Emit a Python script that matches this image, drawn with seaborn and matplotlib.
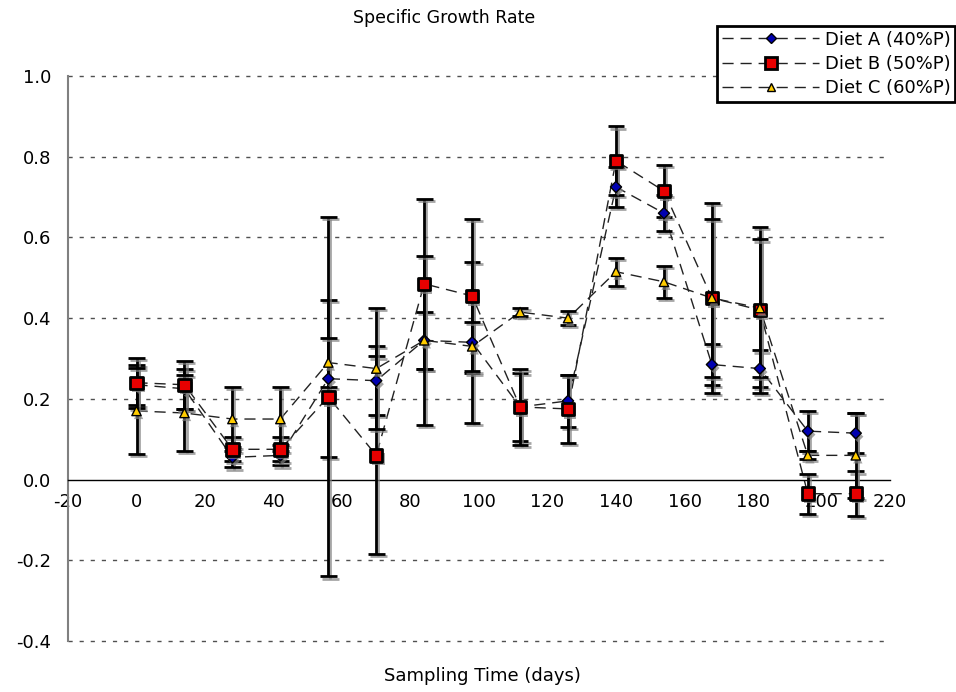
import numpy as np
import pandas as pd
import matplotlib
matplotlib.use("Agg")
import matplotlib.pyplot as plt
import matplotlib.patheffects as pe
from matplotlib.lines import Line2D
import seaborn as sns

# ---- data ----
days = [0, 14, 28, 42, 56, 70, 84, 98, 112, 126, 140, 154, 168, 182, 196, 210]
diet_a = [0.235, 0.225, 0.055, 0.060, 0.250, 0.245, 0.345, 0.340, 0.180, 0.195,
          0.725, 0.660, 0.285, 0.275, 0.120, 0.115]
diet_a_err = [0.050, 0.050, 0.025, 0.025, 0.195, 0.085, 0.070, 0.200, 0.085, 0.065,
              0.050, 0.045, 0.050, 0.045, 0.050, 0.050]
diet_b = [0.240, 0.235, 0.075, 0.075, 0.205, 0.060, 0.485, 0.455, 0.180, 0.175,
          0.790, 0.715, 0.450, 0.420, -0.035, -0.035]
diet_b_err = [0.062, 0.060, 0.030, 0.030, 0.445, 0.245, 0.210, 0.190, 0.095, 0.085,
              0.085, 0.065, 0.235, 0.205, 0.050, 0.055]
diet_c = [0.170, 0.165, 0.150, 0.150, 0.290, 0.275, 0.345, 0.330, 0.415, 0.400,
          0.515, 0.490, 0.450, 0.425, 0.060, 0.060]
diet_c_err = [0.107, 0.095, 0.080, 0.080, 0.060, 0.150, 0.210, 0.060, 0.010, 0.018,
              0.035, 0.040, 0.195, 0.170, 0.010, 0.105]
series_names = ["Diet A (40%P)", "Diet B (50%P)", "Diet C (60%P)"]

values = [diet_a, diet_b, diet_c]
errors = [diet_a_err, diet_b_err, diet_c_err]
df = pd.concat([pd.DataFrame({"day": days, "sgr": v, "err": e, "diet": n})
                for v, e, n in zip(values, errors, series_names)], ignore_index=True)

# ---- style ----
sns.set_theme(style="white")
plt.rcParams["font.family"] = ["DejaVu Sans"]
plt.rcParams["axes.unicode_minus"] = False
plt.rcParams["text.color"] = "black"
plt.rcParams["xtick.color"] = "black"
plt.rcParams["ytick.color"] = "black"
plt.rcParams["xtick.labelcolor"] = "black"
plt.rcParams["ytick.labelcolor"] = "black"

face = {series_names[0]: "#0000B0", series_names[1]: "#E80000", series_names[2]: "#FFCC00"}
mk = {series_names[0]: "D", series_names[1]: "s", series_names[2]: "^"}
msize = {series_names[0]: 32, series_names[1]: 80, series_names[2]: 45}
medge = {series_names[0]: 1.0, series_names[1]: 2.0, series_names[2]: 1.0}

fig = plt.figure(figsize=(9.56, 6.92), dpi=100)
ax = fig.add_axes([68 / 956, 51 / 692, 822 / 956, 565 / 692])

# dashed connecting lines
sns.lineplot(data=df, x="day", y="sgr", hue="diet", palette={n: "#222222" for n in series_names},
             sort=False, legend=False, ax=ax, linewidth=1.0, zorder=2)
for ln in ax.lines:
    ln.set_dashes([8, 5])

# error bars
shadow = [pe.SimpleLineShadow(offset=(1.5, -1.5), shadow_color="#808080", alpha=0.7), pe.Normal()]
for n in series_names:
    sub = df[df["diet"] == n]
    eb = ax.errorbar(sub["day"], sub["sgr"], yerr=sub["err"], fmt="none", ecolor="black",
                     elinewidth=2.0, capsize=6, capthick=2.0, zorder=3)
    for art in list(eb.lines[1]) + list(eb.lines[2]):
        art.set_path_effects(shadow)

# markers
for n in series_names:
    sub = df[df["diet"] == n]
    sns.scatterplot(data=sub, x="day", y="sgr", marker=mk[n], s=msize[n], color=face[n],
                    edgecolor="black", linewidth=medge[n], ax=ax, zorder=4, legend=False)
for coll in ax.collections:
    if coll.get_offsets().shape[0] == len(days) and coll.get_sizes().size:
        coll.set_path_effects([pe.withSimplePatchShadow(offset=(1.5, -2.5), shadow_rgbFace="#808080", alpha=0.7)])

# axes
ax.set_xlim(-20, 220)
ax.set_ylim(-0.4, 1.0)
ax.set_xticks(np.arange(-20, 221, 20))
ax.set_yticks(np.round(np.arange(-0.4, 1.01, 0.2), 1))
ax.set_yticklabels([f"{t:.1f}" for t in np.arange(-0.4, 1.01, 0.2)])
ax.spines["top"].set_visible(False)
ax.spines["right"].set_visible(False)
ax.spines["left"].set_color("#808080")
ax.spines["left"].set_linewidth(1.5)
ax.spines["bottom"].set_position(("data", 0))
ax.spines["bottom"].set_color("black")
ax.spines["bottom"].set_linewidth(1.0)
ax.tick_params(axis="y", direction="out", length=6, color="#808080", labelsize=13, pad=6)
ax.tick_params(axis="x", direction="out", length=6, color="#808080", labelsize=13, pad=4)
ax.grid(False)
for yv in [-0.4, -0.2, 0.2, 0.4, 0.6, 0.8, 1.0]:
    ax.axhline(yv, color="#505050", linestyle=(0, (3, 5)), linewidth=1.0, zorder=1, clip_on=False)
ax.set_xlabel("")
ax.set_ylabel("")

fig.text(444 / 956, 1 - 18 / 692, "Specific Growth Rate", ha="center", va="center", fontsize=12.5)
fig.text(482 / 956, 1 - 676 / 692, "Sampling Time (days)", ha="center", va="center", fontsize=13)

# legend
handles = [Line2D([0], [0], color="#222222", lw=1.0, dashes=[8, 5], marker=mk[n],
                  markerfacecolor=face[n], markeredgecolor="black",
                  markeredgewidth=medge[n], markersize=np.sqrt(msize[n]) * 0.95)
           for n in series_names]
leg = fig.legend(handles, series_names, loc="upper right", bbox_to_anchor=(0.999, 1 - 26 / 692),
                 fontsize=13, frameon=True, fancybox=False, framealpha=1, edgecolor="black",
                 handlelength=5.4, borderpad=0.25, labelspacing=0.35, handletextpad=0.3,
                 borderaxespad=0.0)
leg.get_frame().set_linewidth(2.0)

fig.savefig("out.png", dpi=100)
